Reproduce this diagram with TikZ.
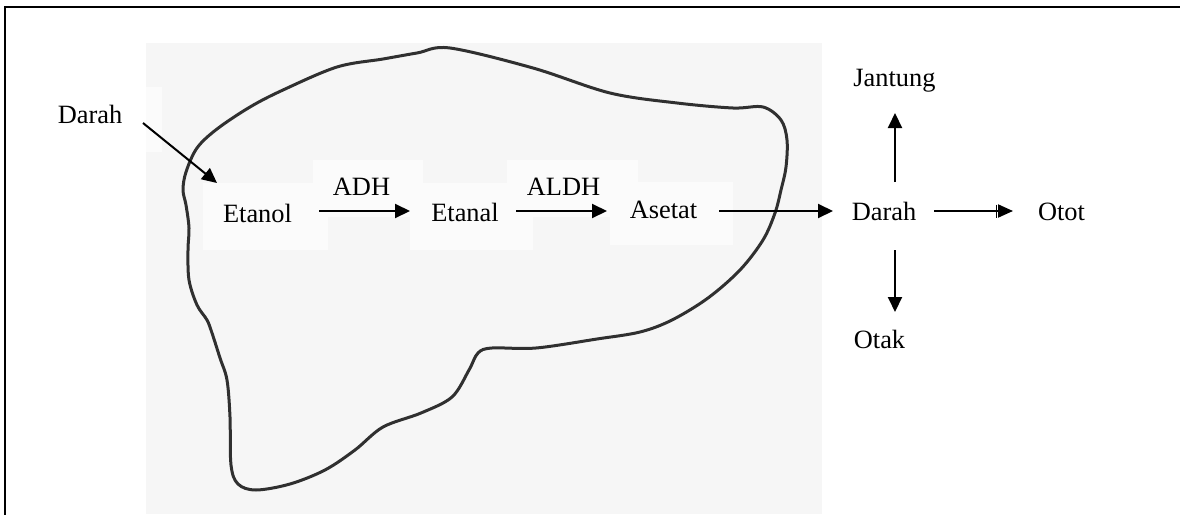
\documentclass[tikz,border=0pt]{standalone}
\usepackage{fontspec}
\setmainfont{Liberation Serif}
\usetikzlibrary{arrows.meta,calc}
\definecolor{panelgray}{HTML}{F6F6F6}
\definecolor{boxwhite}{HTML}{FBFBFB}
\definecolor{inkgray}{HTML}{303030}
\begin{document}
\begin{tikzpicture}[x=1pt,y=-1pt,
  lbl/.style={font=\fontsize{26.4}{30}\selectfont, inner sep=0pt, anchor=base},
  arr/.style={line width=2pt, -{Triangle[length=15pt,width=14pt]}},
  barr/.style={line width=2pt, -{Bar[width=13pt,line width=1.6pt,sep=0.8pt]Triangle[length=15pt,width=13pt]}},
  organ/.style={line width=3pt, draw=inkgray, line join=round},
  textbg/.style={fill=boxwhite},
  frameline/.style={line width=2pt, draw=black}]
\useasboundingbox (0,0) rectangle (1180,514);
\fill[white] (0,0) rectangle (1180,514);

% frame
\draw[frameline] (5,520) -- (5,7) -- (1185,7);

% liver sketch panel
\fill[panelgray] (146,43) rectangle (822,514);
\draw[organ] plot[smooth cycle, tension=0.55] coordinates {
  (450,48) (533,68) (610,93) (677,103) (733,108) (763,107) (781,120)
  (787,140) (786,167) (781,190) (775,213) (763,240) (740,270) (708,298)
  (672,320) (640,332) (597,339) (536,348) (492,348) (478,353) (469,370)
  (452,397) (421,413) (383,427) (355,450) (325,470) (290,484) (256,490)
  (238,484) (231,465) (230,417) (227,380) (220,358) (212,333) (207,320)
  (197,305) (189,280) (188,250) (189,228) (186,205) (183,190) (186,172)
  (197,148) (217,129) (250,107) (283,90) (337,67) (383,59) (417,53)};

% text box backgrounds
\fill[textbg] (146,87) rectangle (162,152);
\fill[textbg] (203,183) rectangle (328,250);
\fill[textbg] (410,183) rectangle (533,250);
\fill[textbg] (610,182) rectangle (733,245);
\fill[textbg] (313,160) rectangle (423,217);
\fill[textbg] (507,160) rectangle (638,217);

% labels
\node[lbl] (darahIn) at (90,123) {Darah};
\node[lbl] (etanol)  at (257.5,222) {Etanol};
\node[lbl] (adh)     at (361.5,195) {ADH};
\node[lbl] (etanal)  at (465,221) {Etanal};
\node[lbl] (aldh)    at (563.5,195) {ALDH};
\node[lbl] (asetat)  at (663.5,218) {Asetat};
\node[lbl] (darah)   at (884,220) {Darah};
\node[lbl] (otot)    at (1061.5,220) {Otot};
\node[lbl] (jantung) at (894.5,86) {Jantung};
\node[lbl] (otak)    at (879.5,348) {Otak};

% connectors
\draw[arr] ($(darahIn.base)+(53,0)$) -- ($(etanol.base)+(-40.5,-39)$);
\draw[arr] ($(etanol.base)+(61.5,-11)$) -- ($(etanal.base)+(-55,-10)$);
\draw[arr] ($(etanal.base)+(51,-10)$) -- ($(asetat.base)+(-56.5,-7)$);
\draw[arr] ($(asetat.base)+(55.5,-7)$) -- ($(darah.base)+(-51,-9)$);
\draw[barr] ($(darah.base)+(50,-9)$) -- ($(otot.base)+(-48.5,-9)$);
\draw[arr] ($(darah.base)+(11,-38)$) -- ($(jantung.base)+(0.5,27)$);
\draw[arr] ($(darah.base)+(11,30)$) -- ($(otak.base)+(15.5,-36)$);
\end{tikzpicture}
\end{document}
